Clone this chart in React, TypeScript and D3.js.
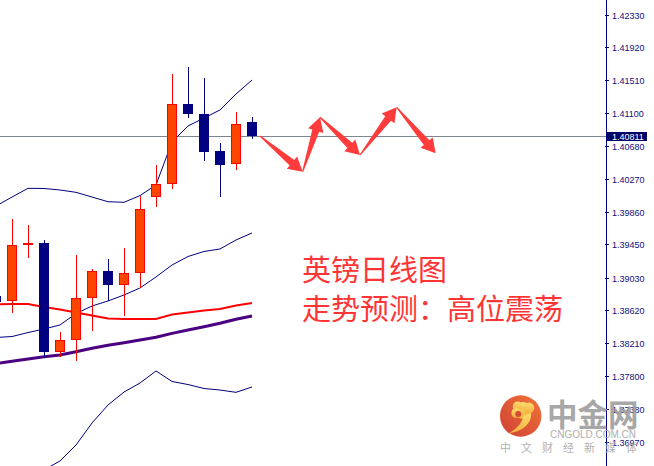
import React from "react";
import * as d3 from "d3";

// ---- data ----
const candleIndex = [0, 1, 2, 3, 4, 5, 6, 7, 8, 9, 10, 11, 12, 13, 14, 15, 16];
const openP = [1.38801, 1.38735, 1.39437, 1.39466, 1.38103, 1.38246, 1.38773, 1.39115, 1.38943, 1.39086, 1.4004, 1.40203, 1.41206, 1.41081, 1.4062, 1.40453, 1.4098];
const highP = [1.3885, 1.39767, 1.39692, 1.39504, 1.38346, 1.39312, 1.39144, 1.39266, 1.39403, 1.40056, 1.40448, 1.41586, 1.41674, 1.41536, 1.40717, 1.41106, 1.41047];
const lowP = [1.3868, 1.38592, 1.39282, 1.38024, 1.38032, 1.3799, 1.38366, 1.38742, 1.38554, 1.38898, 1.39922, 1.40147, 1.41038, 1.40499, 1.40047, 1.40386, 1.40775];
const closeP = [1.3873, 1.39437, 1.39466, 1.38103, 1.38246, 1.38773, 1.39115, 1.38943, 1.39086, 1.39889, 1.40206, 1.41206, 1.41088, 1.40611, 1.40448, 1.40955, 1.40811];

const bandUpper = [1.3993, 1.40043, 1.40152, 1.4015, 1.40131, 1.40102, 1.40043, 1.39984, 1.39977, 1.40061, 1.40194, 1.40733, 1.40934, 1.41034, 1.41135, 1.41335, 1.41511];
const bandMiddle = [1.38281, 1.38293, 1.38343, 1.38387, 1.38438, 1.38582, 1.38676, 1.38739, 1.38814, 1.38902, 1.3904, 1.3919, 1.39297, 1.3936, 1.39391, 1.39504, 1.39592];
const bandLower = [1.36631, 1.36543, 1.36531, 1.36619, 1.36732, 1.36932, 1.37208, 1.37434, 1.37597, 1.3771, 1.37861, 1.37729, 1.37691, 1.37641, 1.37622, 1.37593, 1.3766];
const maRed = [1.38697, 1.38701, 1.38701, 1.38663, 1.38632, 1.38594, 1.38557, 1.38519, 1.38513, 1.38513, 1.38513, 1.38569, 1.38594, 1.38619, 1.38638, 1.38682, 1.38714];
const maPurple = [1.37955, 1.37983, 1.38011, 1.38039, 1.38061, 1.38101, 1.38145, 1.38183, 1.38216, 1.38249, 1.38283, 1.38333, 1.38375, 1.38416, 1.38459, 1.38509, 1.3855];

const tickLabels = ["1.42330", "1.41920", "1.41510", "1.41100", "1.40680", "1.40270", "1.39860", "1.39450", "1.39030", "1.38620", "1.38210", "1.37800", "1.37380", "1.36970"];
const currentPrice = 1.40811;

const arrowX = [16.5, 19.17, 20.25, 22.75, 25.04, 27.48];
const arrowY = [1.40808, 1.40361, 1.41043, 1.4057, 1.41168, 1.40591];

const titleLines = ["英镑日线图", "走势预测：高位震荡"];

// ---- layout ----
const W = 654;
const H = 466;
const AXIS_X = 606;

const x = d3.scaleLinear().domain([1, 2]).range([12, 28]);
const y = d3.scaleLinear().domain([1.3697, 1.4233]).range([442, 14.7]);

const BULL_FILL = "#FF4500";
const BULL_LINE = "#FF0000";
const BEAR = "#000080";

function arrowPolygon(ax: number, ay: number, bx: number, by: number) {
  const dx = bx - ax;
  const dy = by - ay;
  const L = Math.hypot(dx, dy);
  const ux = dx / L, uy = dy / L;
  const nx = -uy, ny = ux;
  const hl = 14, hw = 8, sw = 3.6, tw = 0.6;
  const hx = bx - ux * hl, hy = by - uy * hl;
  const pts = [
    [ax + nx * tw, ay + ny * tw],
    [hx + nx * sw, hy + ny * sw],
    [hx + nx * hw, hy + ny * hw],
    [bx, by],
    [hx - nx * hw, hy - ny * hw],
    [hx - nx * sw, hy - ny * sw],
    [ax - nx * tw, ay - ny * tw],
  ];
  return pts.map((p) => p.join(",")).join(" ");
}

export default function App() {
  const lineGen = (vals: number[]) =>
    d3.line<number>().x((_, i) => x(candleIndex[i])).y((v) => y(v))(vals) || "";

  const cy = Math.round(y(currentPrice)) + 0.5;

  return (
    <svg
      width={W}
      height={H}
      style={{ position: "absolute", left: 0, top: 0, background: "#fff" }}
      xmlns="http://www.w3.org/2000/svg"
    >
      <defs>
        <clipPath id="plot">
          <rect x={0} y={0} width={AXIS_X} height={H} />
        </clipPath>
        <linearGradient id="logoG" x1="1" y1="0" x2="0" y2="1">
          <stop offset="0" stopColor="#F0641E" />
          <stop offset="1" stopColor="#C8241A" />
        </linearGradient>
        <linearGradient id="swirlG" x1="0" y1="0" x2="0" y2="1">
          <stop offset="0" stopColor="#FBD65A" />
          <stop offset="1" stopColor="#F5A623" />
        </linearGradient>
      </defs>
      <rect x={0} y={0} width={W} height={H} fill="#fff" />

      <g clipPath="url(#plot)">
        {/* current price line */}
        <line x1={0} x2={AXIS_X} y1={cy} y2={cy} stroke="#7d8590" strokeWidth={1} />

        {/* indicator lines */}
        <path d={lineGen(bandUpper)} fill="none" stroke={BEAR} strokeWidth={1} />
        <path d={lineGen(bandMiddle)} fill="none" stroke={BEAR} strokeWidth={1} />
        <path d={lineGen(bandLower)} fill="none" stroke={BEAR} strokeWidth={1} />
        <path d={lineGen(maRed)} fill="none" stroke="#FF0000" strokeWidth={2} />
        <path d={lineGen(maPurple)} fill="none" stroke="#4B0082" strokeWidth={3} />

        {/* candles */}
        {candleIndex.map((ci, i) => {
          const cx = x(ci);
          const bull = closeP[i] >= openP[i];
          const top = Math.round(y(Math.max(openP[i], closeP[i])));
          const bot = Math.round(y(Math.min(openP[i], closeP[i])));
          const hi = Math.round(y(highP[i]));
          const lo = Math.round(y(lowP[i]));
          const h = Math.max(bot - top, 2);
          return (
            <g key={i}>
              <line
                x1={cx + 0.5}
                x2={cx + 0.5}
                y1={hi}
                y2={lo}
                stroke={bull ? BULL_LINE : BEAR}
                strokeWidth={1}
              />
              {bull ? (
                <rect
                  x={cx - 4.5}
                  y={top + 0.5}
                  width={9}
                  height={h - 1}
                  fill={BULL_FILL}
                  stroke={BULL_LINE}
                  strokeWidth={1}
                />
              ) : (
                <rect x={cx - 5} y={top} width={10} height={h} fill={BEAR} />
              )}
            </g>
          );
        })}

        {/* forecast arrows */}
        {arrowX.slice(0, -1).map((_, i) => (
          <polygon
            key={i}
            points={arrowPolygon(x(arrowX[i]), y(arrowY[i]), x(arrowX[i + 1]), y(arrowY[i + 1]))}
            fill="#FF3B3B"
          />
        ))}

        {/* title text */}
        {titleLines.map((t, i) => (
          <text
            key={i}
            x={302}
            y={281 + i * 38.5}
            fontFamily="'Noto Sans CJK SC', sans-serif"
            fontSize={29}
            fill="#FF3535"
          >
            {t}
          </text>
        ))}
      </g>

      {/* right axis */}
      <line x1={AXIS_X + 0.5} x2={AXIS_X + 0.5} y1={0} y2={H} stroke={BEAR} strokeWidth={1} />
      {tickLabels.map((t) => {
        const ty = Math.round(y(+t)) + 0.5;
        return (
          <g key={t}>
            <line x1={AXIS_X - 1} x2={AXIS_X + 3} y1={ty} y2={ty} stroke={BEAR} strokeWidth={1} />
            <text
              x={612}
              y={ty + 3.5}
              fontFamily="'Liberation Sans', Arial, sans-serif"
              fontSize={9}
              fill="#10107a"
            >
              {t}
            </text>
          </g>
        );
      })}
      <rect x={607} y={cy - 4.5} width={40} height={9} fill="#000066" />
      <text
        x={612}
        y={cy + 3.5}
        fontFamily="'Liberation Sans', Arial, sans-serif"
        fontSize={9}
        fill="#ffffff"
      >
        {currentPrice.toFixed(5)}
      </text>

      {/* watermark */}
      <g opacity={0.88}>
        <g transform="translate(520.7,416)">
          <circle r={20.7} fill="url(#logoG)" />
          <circle cx={2} cy={-5.5} r={8.5} fill="url(#swirlG)" />
          <circle cx={8} cy={-8} r={5.5} fill="url(#swirlG)" />
          <circle cx={-3} cy={-9.5} r={5} fill="url(#swirlG)" />
          <circle cx={-4.5} cy={-3} r={4.8} fill="url(#swirlG)" />
          <path d="M 10.5,-3 Q 11,13 -12,17.5 Q 2,9 2.5,0 Z" fill="url(#swirlG)" />
          <circle cx={-2.5} cy={-2} r={3} fill="#D0301A" />
        </g>
        <text
          x={547}
          y={425.5}
          fontFamily="'Noto Sans CJK SC', sans-serif"
          fontWeight={700}
          fontSize={30.5}
          fill="#9c9c9c"
        >
          中金网
        </text>
        <text
          x={550}
          y={438}
          fontFamily="'Liberation Sans', Arial, sans-serif"
          fontSize={10}
          textLength={86}
          lengthAdjust="spacingAndGlyphs"
          fill="#a4a4a4"
        >
          CNGOLD.COM.CN
        </text>
        <text
          x={500}
          y={451.5}
          fontFamily="'Noto Sans CJK SC', sans-serif"
          fontSize={11}
          textLength={137}
          lengthAdjust="spacing"
          fill="#a8a8a8"
        >
          中文财经新媒体
        </text>
      </g>
    </svg>
  );
}
